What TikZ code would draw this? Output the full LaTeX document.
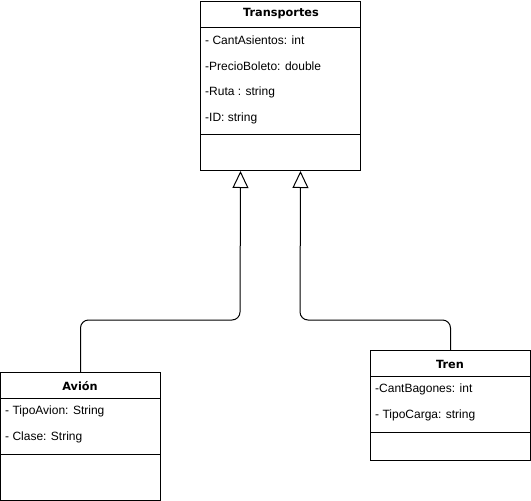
\documentclass[tikz,border=0pt]{standalone}
\usepackage{fontspec}
\setmainfont{Liberation Sans}
\newfontfamily\headfont{DejaVu Sans}
\usetikzlibrary{arrows.meta}
\begin{document}
\begin{tikzpicture}[x=1pt,y=-1pt,
  classbox/.style={draw=black,line width=1pt,fill=white,inner sep=0pt,anchor=north west},
  ctitle/.style={font=\headfont\fontsize{11.3}{13}\selectfont\bfseries,inner sep=0pt},
  attr/.style={font=\fontsize{12}{14}\selectfont,inner sep=0pt,anchor=west},
  divider/.style={line width=1pt},
  inherit/.style={line width=1pt,rounded corners=8pt,
    -{Triangle[open,length=17pt,width=16pt,fill=white]}}]
\useasboundingbox (0,0) rectangle (531,501);

% parent class
\node[classbox,minimum width=160pt,minimum height=169pt] (trans) at (200,1) {};
\node[ctitle] (transtitle) at (281,14) {Transportes};
\draw[divider] ([yshift=-26pt]trans.north west) -- ([yshift=-26pt]trans.north east);
\draw[divider] ([yshift=-133pt]trans.north west) -- ([yshift=-133pt]trans.north east);
\node[attr] (ta1) at (205,40) {- CantAsientos: int};
\node[attr] (ta2) at (205,66) {-PrecioBoleto: double};
\node[attr] (ta3) at (205,92) {-Ruta : string};
\node[attr] (ta4) at (205,118) {-ID: string};

% subclass Avión
\node[classbox,minimum width=160pt,minimum height=128pt] (avion) at (0,372) {};
\node[ctitle] (aviontitle) at (80,386) {Avión};
\draw[divider] ([yshift=-26pt]avion.north west) -- ([yshift=-26pt]avion.north east);
\draw[divider] ([yshift=-82pt]avion.north west) -- ([yshift=-82pt]avion.north east);
\node[attr] (aa1) at (5,411) {- TipoAvion: String};
\node[attr] (aa2) at (5,437) {- Clase: String};

% subclass Tren
\node[classbox,minimum width=160pt,minimum height=110pt] (tren) at (370,350) {};
\node[ctitle] (trentitle) at (450,364) {Tren};
\draw[divider] ([yshift=-26pt]tren.north west) -- ([yshift=-26pt]tren.north east);
\draw[divider] ([yshift=-82pt]tren.north west) -- ([yshift=-82pt]tren.north east);
\node[attr] (ra1) at (375,389) {-CantBagones: int};
\node[attr] (ra2) at (375,415) {- TipoCarga: string};

% generalization connectors
\coordinate (tipA) at ([xshift=-40pt]trans.south);
\coordinate (tipT) at ([xshift=20pt]trans.south);
\coordinate (bendA) at (240,320);
\coordinate (bendT) at (300,320);
\draw[inherit] (avion.north) |- (bendA) -- (tipA);
\draw[inherit] (tren.north) |- (bendT) -- (tipT);
\end{tikzpicture}
\end{document}
